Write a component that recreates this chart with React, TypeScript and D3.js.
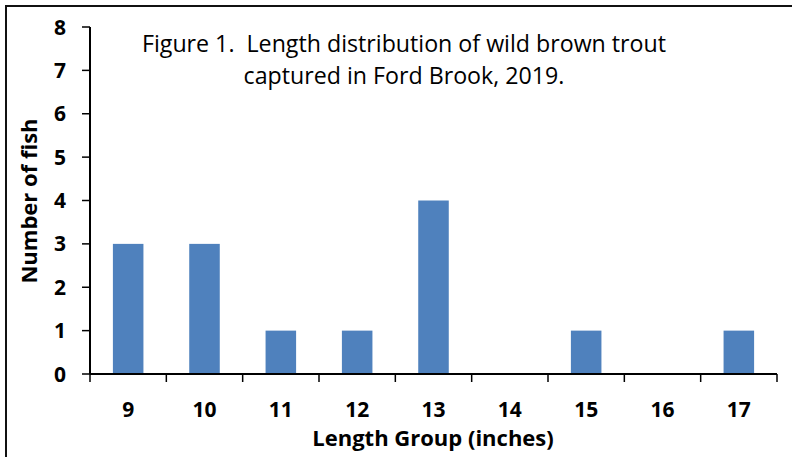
import React from 'react';
import * as d3 from 'd3';

// Length groups (inches) and fish counts
const lengthGroups: string[] = ['9', '10', '11', '12', '13', '14', '15', '16', '17'];
const fishCounts: number[] = [3, 3, 1, 1, 4, 0, 1, 0, 1];
const yTicks: number[] = [0, 1, 2, 3, 4, 5, 6, 7, 8];
const titleLines: string[] = [
    'Figure 1.  Length distribution of wild brown trout',
    'captured in Ford Brook, 2019.',
];

const width = 792;
const height = 457;
const margin = { top: 27, right: 15, bottom: 83, left: 90 };
const font = '"Open Sans", "Noto Sans", sans-serif';

const App: React.FC = () => {
    const y = d3.scaleLinear()
        .domain([0, 8])
        .range([height - margin.bottom, margin.top]);

    const baseY = y(0);
    // plain category step: bars sit in the middle of each slot
    const catW = (width - margin.right - margin.left) / lengthGroups.length;
    const barW = catW * 0.4;
    const xEdges = d3.range(lengthGroups.length + 1).map(i => margin.left + i * catW);
    const center = (i: number) => margin.left + catW * (i + 0.5);

    return (
        <svg width={width} height={height} style={{ position: 'absolute', left: 0, top: 0, background: '#fff' }}>
            {/* outer frame, cropped at right and bottom */}
            <rect x={6} y={6} width={width + 20} height={height + 20} fill="#fff" stroke="#111" strokeWidth={2} />

            {/* title */}
            {titleLines.map((t, i) => (
                <text key={t} x={404} y={52 + i * 32} textAnchor="middle" fontFamily={font} fontSize={23.2} fill="#000" style={{ whiteSpace: 'pre' }}>
                    {t}
                </text>
            ))}

            {/* bars */}
            {lengthGroups.map((g, i) => (
                <rect
                    key={g}
                    x={center(i) - barW / 2}
                    y={y(fishCounts[i])}
                    width={barW}
                    height={baseY - y(fishCounts[i])}
                    fill="#4f81bd"
                />
            ))}

            {/* y axis */}
            <line x1={margin.left} x2={margin.left} y1={y(8)} y2={baseY} stroke="#000" strokeWidth={2} />
            {yTicks.map(t => (
                <g key={t}>
                    <line x1={margin.left - 8} x2={margin.left} y1={y(t)} y2={y(t)} stroke="#000" strokeWidth={1.5} />
                    <text x={66} y={y(t)} dy="0.36em" textAnchor="end" fontFamily={font} fontWeight="bold" fontSize={21} fill="#000">
                        {t}
                    </text>
                </g>
            ))}

            {/* x axis */}
            <line x1={margin.left} x2={width - margin.right} y1={baseY} y2={baseY} stroke="#000" strokeWidth={2} />
            {xEdges.map((ex, i) => (
                <line key={i} x1={ex} x2={ex} y1={baseY} y2={baseY + 8} stroke="#000" strokeWidth={1.5} />
            ))}
            {lengthGroups.map((g, i) => (
                <text key={g} x={center(i)} y={417} textAnchor="middle" fontFamily={font} fontWeight="bold" fontSize={21} fill="#000">
                    {g}
                </text>
            ))}

            {/* axis titles */}
            <text x={433} y={446} textAnchor="middle" fontFamily={font} fontWeight="bold" fontSize={22} fill="#000">
                Length Group (inches)
            </text>
            <text transform={`translate(37,201) rotate(-90)`} textAnchor="middle" fontFamily={font} fontWeight="bold" fontSize={22} fill="#000">
                Number of fish
            </text>
        </svg>
    );
};

export default App;
